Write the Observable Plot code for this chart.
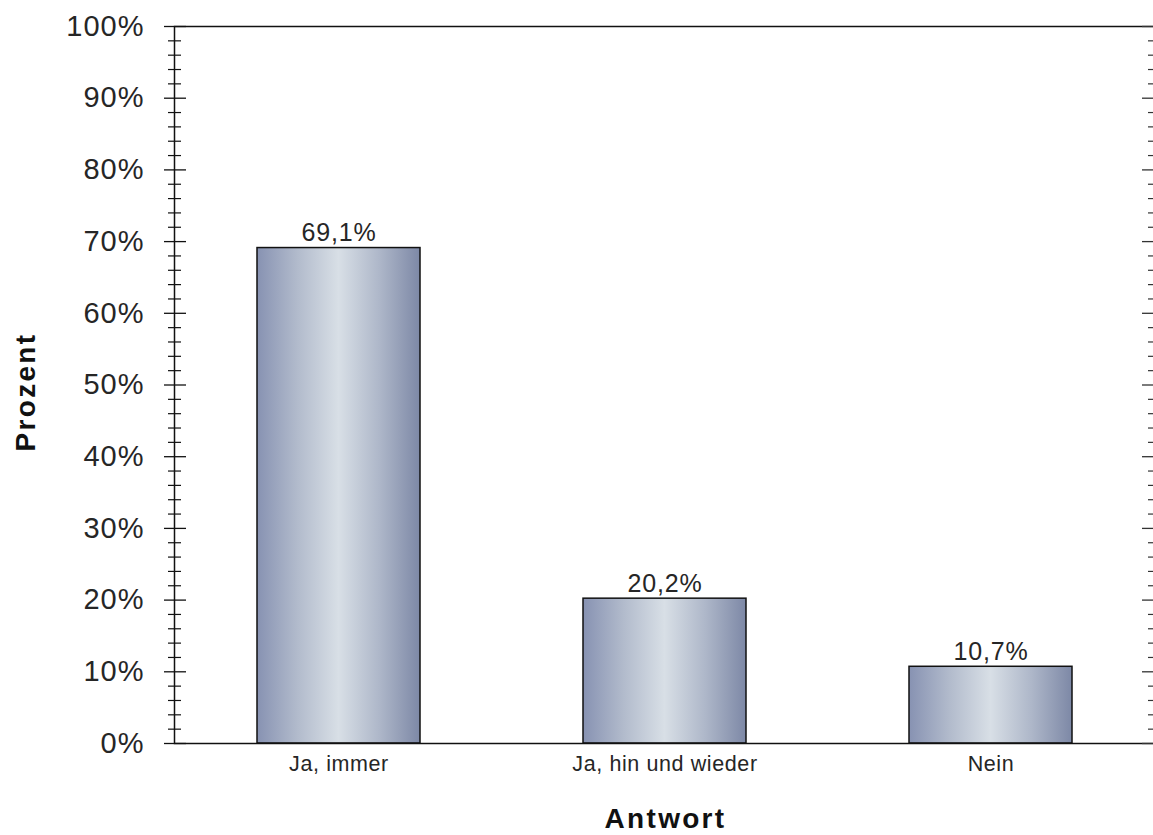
<!DOCTYPE html>
<html>
<head>
<meta charset="utf-8">
<script src="https://cdn.jsdelivr.net/npm/d3@7"></script>
<script src="https://cdn.jsdelivr.net/npm/@observablehq/plot@0.6"></script>
<style>
  html, body { margin: 0; padding: 0; background: #fff; }
  #chart svg { display: block; }
</style>
</head>
<body>
<div id="chart"></div>
<script>
const categories = ["Ja, immer", "Ja, hin und wieder", "Nein"];
const values = [69.1, 20.2, 10.7];
const majorTicks = [0, 10, 20, 30, 40, 50, 60, 70, 80, 90, 100];
const minorTicks = [2,4,6,8,12,14,16,18,22,24,26,28,32,34,36,38,42,44,46,48,52,54,56,58,62,64,66,68,72,74,76,78,82,84,86,88,92,94,96,98];
const xTitle = "Antwort";
const yTitle = "Prozent";

const data = categories.map((c, i) => ({answer: c, value: values[i]}));
const deLocale = d3.formatLocale({decimal: ",", thousands: ".", grouping: [3], currency: ["", " €"]});
const fmt = deLocale.format(".1f");

const W = 1153, H = 835;
const mL = 174, mT = 26, mB = 92, mR = -1;
const frameW = W - mL - mR;

const defs = () => {
  const d = d3.create("svg:defs");
  const g = d.append("linearGradient").attr("id", "barGrad").attr("x1", "0").attr("x2", "1").attr("y1", "0").attr("y2", "0");
  g.append("stop").attr("offset", "0%").attr("stop-color", "#8792b2");
  g.append("stop").attr("offset", "25%").attr("stop-color", "#b2bbcc");
  g.append("stop").attr("offset", "50%").attr("stop-color", "#d8dfe6");
  g.append("stop").attr("offset", "75%").attr("stop-color", "#aeb7c9");
  g.append("stop").attr("offset", "100%").attr("stop-color", "#7d88a6");
  return d.node();
};

const chart = Plot.plot({
  width: W,
  height: H,
  marginLeft: mL,
  marginTop: mT,
  marginBottom: mB,
  marginRight: mR,
  style: {fontFamily: "'Liberation Sans', Arial, sans-serif", color: "#000", background: "#fff"},
  x: {domain: categories, paddingInner: 0.5, paddingOuter: 0.25, label: null},
  y: {domain: [0, 100], label: null},
  marks: [
    defs,
    Plot.barY(data, {x: "answer", y: "value", fill: "url(#barGrad)", stroke: "#111", strokeWidth: 1.5}),
    Plot.frame({stroke: "#111", strokeWidth: 1.5}),
    Plot.tickY(majorTicks, {y: d => d, insetLeft: -10, insetRight: frameW - 12, stroke: "#111", strokeWidth: 1.3}),
    Plot.tickY(minorTicks, {y: d => d, insetLeft: -6, insetRight: frameW - 7, stroke: "#111", strokeWidth: 1.2}),
    Plot.tickY(majorTicks, {y: d => d, insetLeft: frameW - 12, insetRight: 0, stroke: "#333", strokeWidth: 1.3}),
    Plot.tickY(minorTicks, {y: d => d, insetLeft: frameW - 6, insetRight: 0, stroke: "#333", strokeWidth: 1.2}),
    Plot.axisY(majorTicks, {tickSize: 0, tickPadding: 30, fontSize: 29, fill: "#262626", tickFormat: d => d + "%", label: null}),
    Plot.axisX({tickSize: 0, tickPadding: 12, fontSize: 21.5, fill: "#262626", label: null}),
    Plot.text(data, {x: "answer", y: "value", text: d => fmt(d.value) + "%", lineAnchor: "bottom", dy: -7, fontSize: 25, fill: "#262626"}),
    Plot.text([xTitle], {frameAnchor: "bottom", lineAnchor: "middle", textAnchor: "middle", dy: 76, dx: 1, fontSize: 28, fontWeight: "bold", fill: "#111"}),
    Plot.text([yTitle], {frameAnchor: "left", lineAnchor: "middle", textAnchor: "middle", dx: -148, dy: 7, rotate: -90, fontSize: 28, fontWeight: "bold", fill: "#111"})
  ]
});

// letter spacing to match the reference's looser text
const sel = d3.select(chart);
sel.selectAll('g[aria-label="y-axis tick label"] text').style("letter-spacing", "1px");
sel.selectAll('g[aria-label="x-axis tick label"] text').style("letter-spacing", "0.6px");
sel.selectAll('g[aria-label="text"] text').each(function() {
  const t = this.textContent;
  if (t === xTitle || t === yTitle) d3.select(this).style("letter-spacing", "2.3px");
  else d3.select(this).style("letter-spacing", "0.8px");
});

document.getElementById("chart").append(chart);
</script>
</body>
</html>
